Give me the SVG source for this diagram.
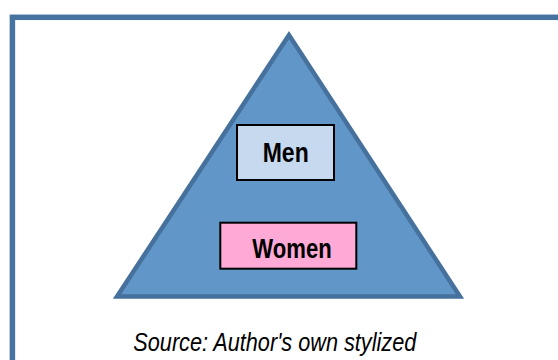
<svg xmlns="http://www.w3.org/2000/svg" width="558" height="360" viewBox="0 0 558 360">
<style>
.lbl{font-family:"Liberation Sans",Arial,sans-serif;font-weight:bold;font-size:27px;fill:#000}
.box{stroke:#000;stroke-width:2}
.src{font-family:"Liberation Sans",Arial,sans-serif;font-style:italic;font-size:26px;fill:#000}
</style>
<rect width="558" height="360" fill="#fff"/>
<rect id="frame" x="12.4" y="17.3" width="600" height="400" fill="none" stroke="#46739f" stroke-width="5.5"/>
<g id="pyramid">
<polygon points="289,35 117,296.5 460,296.5" fill="#6196c8" stroke="#46719c" stroke-width="4.5" stroke-linejoin="miter"/>
</g>
<g id="connectors"></g>
<g id="men">
<rect class="box" x="237" y="125" width="97" height="55" fill="#c6d9ee"/>
<text class="lbl" x="262.7" y="161.7" textLength="46" lengthAdjust="spacingAndGlyphs">Men</text>
</g>
<g id="women">
<rect class="box" x="220.3" y="222.7" width="136" height="46" fill="#ffa9d6"/>
<text class="lbl" x="252.3" y="257.7" textLength="79.4" lengthAdjust="spacingAndGlyphs">Women</text>
</g>
<g id="caption">
<text class="src" x="133.3" y="350.7" textLength="283" lengthAdjust="spacingAndGlyphs">Source: Author's own stylized</text>
</g>
</svg>
